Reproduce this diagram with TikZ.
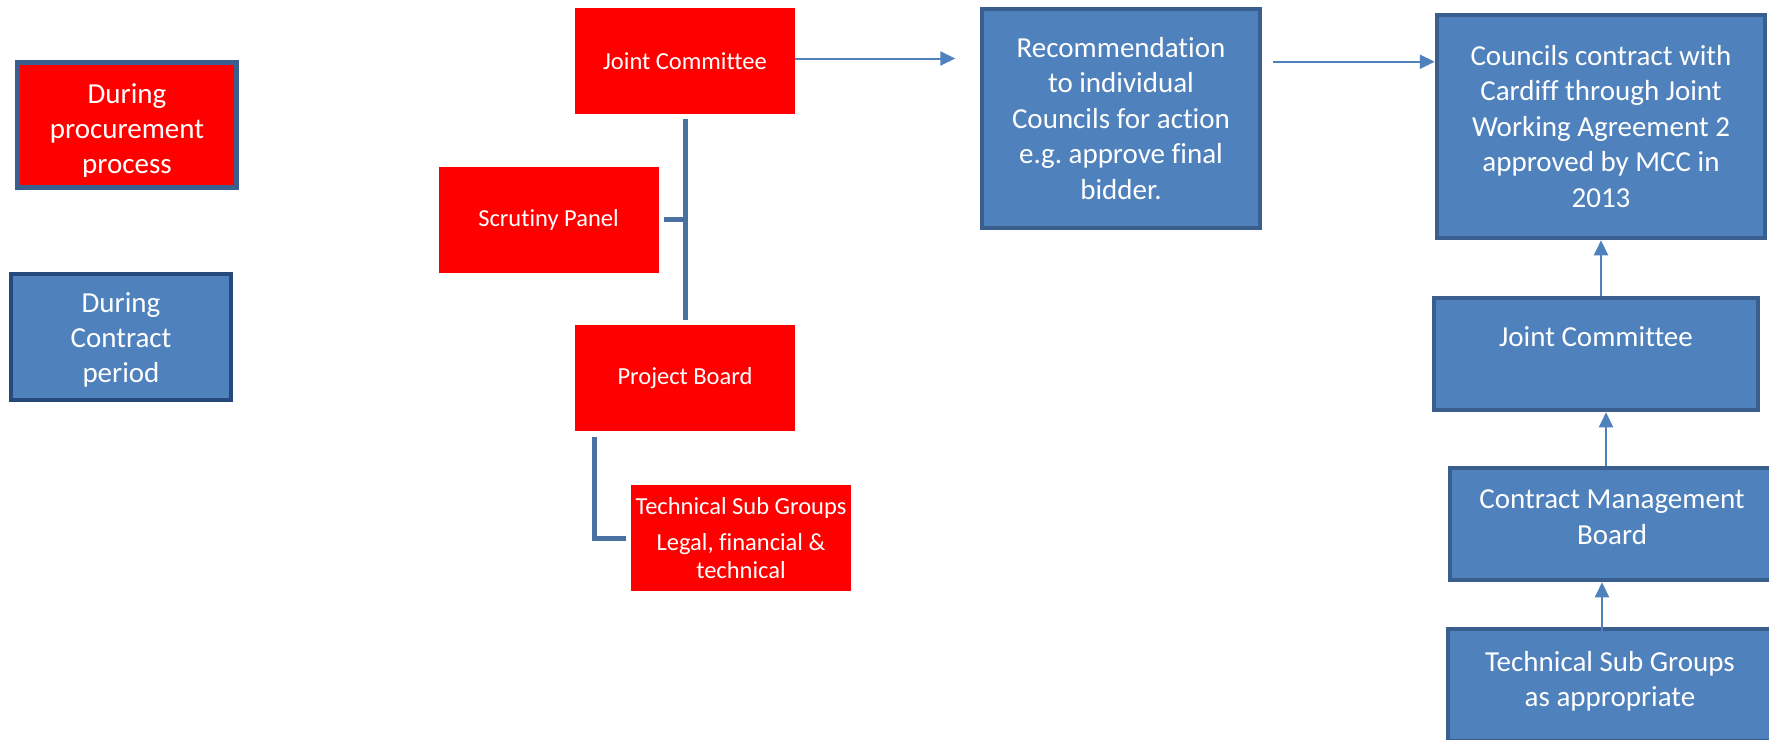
\documentclass[tikz,border=0pt]{standalone}
\usepackage{fontspec}
\setmainfont{Carlito}[Ligatures={NoCommon,NoContextual}]
\usetikzlibrary{arrows.meta}
\definecolor{ofblue}{HTML}{4F81BD}
\definecolor{ofborder}{HTML}{3A5F8E}
\definecolor{ofdark}{HTML}{25497C}
\definecolor{treecol}{HTML}{4A6FA3}
\tikzset{
  bluebox/.style={draw=ofborder, line width=4.5pt, fill=ofblue, text=white, inner sep=0pt, align=center,
    font=\fontsize{29}{35.5}\selectfont},
  redbox/.style={fill=red, text=white, inner sep=0pt, align=center, font=\fontsize{24.5}{27}\selectfont,
    minimum width=220pt, minimum height=106pt},
  txt/.style={text=white, inner sep=0pt, align=center, font=\fontsize{29}{35}\selectfont},
  arr/.style={draw=ofblue, line width=2pt, -{Triangle[length=15pt,width=14pt]}},
  tree/.style={draw=treecol, line width=5pt}
}
\begin{document}
\begin{tikzpicture}[x=1pt,y=-1pt]
\useasboundingbox (0,0) rectangle (1769,739);
\clip (0,0) rectangle (1769,739);
% legend boxes
\node[bluebox, fill=red, minimum width=219pt, minimum height=125pt] (leg1) at (127,125) {};
\begin{scope}
\clip (20,65) rectangle (234,176);
\node[txt] (leg1t) at (127,131) {During\\procurement\\process};
\end{scope}
\node[bluebox, draw=ofdark, minimum width=220pt, minimum height=126pt] (leg2) at (121,337) {};
\begin{scope}
\clip (15,278) rectangle (228,387);
\node[txt] (leg2t) at (121,340) {During\\Contract\\period};
\end{scope}
% procurement structure
\node[redbox] (jcr) at (685,61) {Joint Committee};
\node[redbox] (sp) at (548.5,219.7) {Scrutiny Panel};
\node[redbox] (pb) at (685,378) {Project Board};
\node[redbox, font=\fontsize{24.5}{28}\selectfont] (tsr) at (741,538)
  {Technical Sub Groups\\[8pt]Legal, financial \&\\technical};
\draw[tree, shorten <=5pt, shorten >=5pt] (jcr.south) -- (pb.north);
\draw[tree, shorten <=5pt] (sp.east) -- (sp.east -| jcr.south);
\draw[tree, shorten >=5pt] ([xshift=19.6pt,yshift=-5.7pt]pb.south west) |- (tsr.west);
% recommendation and contract
\node[bluebox, minimum width=278pt, minimum height=219pt] (rec) at (1121,118.5)
  {Recommendation\\to individual\\Councils for action\\e.g.\ approve final\\bidder.};
\node[bluebox, minimum width=328pt, minimum height=223pt] (cc) at (1601,126.5)
  {Councils contract with\\Cardiff through Joint\\Working Agreement 2\\approved by MCC in\\2013};
\node[bluebox, minimum width=324pt, minimum height=112pt] (jcb) at (1596,354) {Joint Committee\\~};
\node[bluebox, minimum width=324pt, minimum height=112pt] (cmb) at (1612,524) {Contract Management\\Board\\[-22pt]\mbox{}};
\node[bluebox, minimum width=324pt, minimum height=112pt] (tsb) at (1610,685) {Technical Sub Groups\\as appropriate\\[-23pt]\mbox{}};
% arrows
\draw[arr, shorten >=24.5pt] ([yshift=2.5pt]jcr.east) -- ([yshift=2.5pt]jcr.east -| rec.west);
\draw[arr, shorten <=11pt] ([yshift=-55pt]rec.north east) -- ([yshift=-55pt]rec.north east -| cc.west);
\draw[arr] ([xshift=5pt]jcb.north) -- ([xshift=5pt]jcb.north |- cc.south);
\draw[arr] ([xshift=-6pt]cmb.north) -- ([xshift=-6pt]cmb.north |- jcb.south);
\draw[arr] ([xshift=-8pt,yshift=-11pt]tsb.north) -- ([xshift=-8pt]tsb.north |- cmb.south);
\end{tikzpicture}
\end{document}
